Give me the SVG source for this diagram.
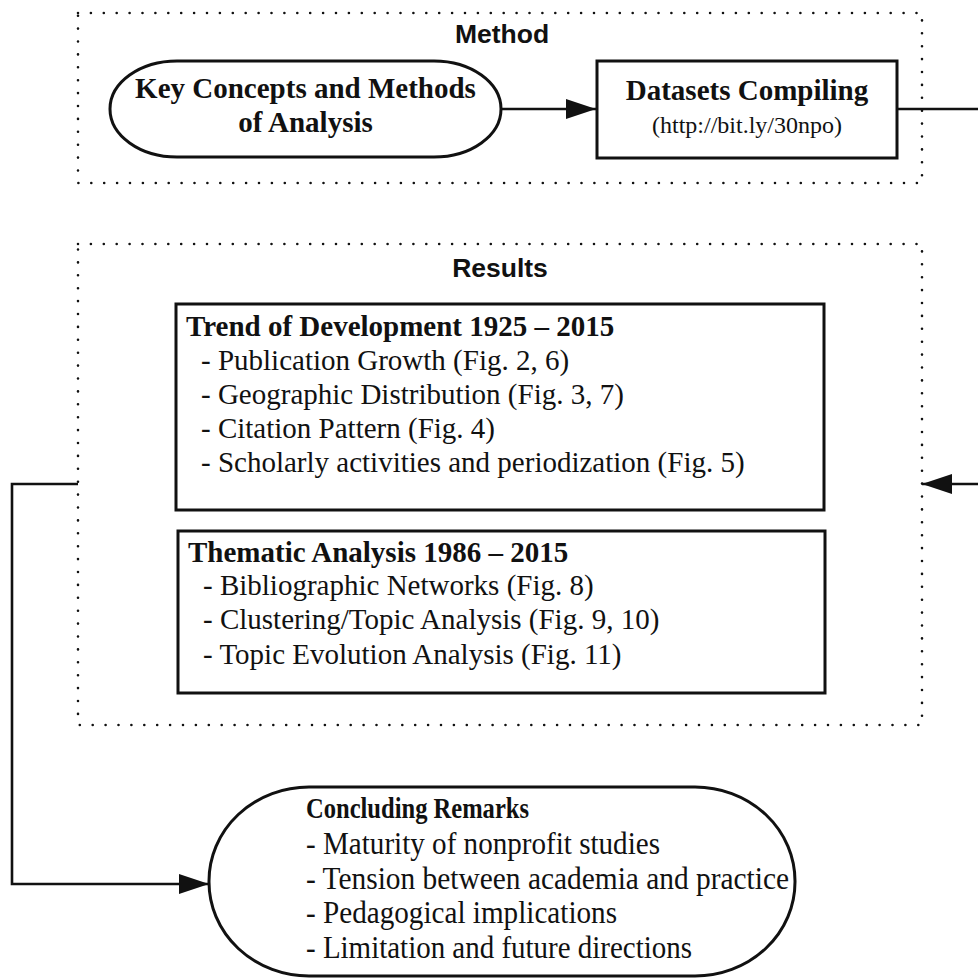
<svg xmlns="http://www.w3.org/2000/svg" width="978" height="979" viewBox="0 0 978 979">
<style>
.grp{fill:none;stroke:#111;stroke-width:2.6;stroke-linecap:round;stroke-dasharray:0 12.9}
.node{fill:#fff;stroke:#111;stroke-width:3}
.edge{fill:none;stroke:#111;stroke-width:2.6}
.hd{font-family:"Liberation Sans",Arial,sans-serif;font-weight:bold;font-size:26.5px;fill:#111;text-anchor:middle}
.tb{font-family:"Liberation Serif","Times New Roman",serif;font-weight:bold;fill:#111}
.tr{font-family:"Liberation Serif","Times New Roman",serif;fill:#111}
</style>
<defs>
<marker id="arr" viewBox="0 0 30 20" refX="30" refY="10" markerWidth="30" markerHeight="20" markerUnits="userSpaceOnUse" orient="auto">
<path d="M0,0 L30,10 L0,20 z" fill="#111"/>
</marker>
</defs>
<g id="method-group">
<rect class="grp" x="78" y="13" width="844" height="170"/>
<text class="hd" x="502" y="43">Method</text>
</g>
<g id="results-group">
<rect class="grp" x="78" y="244" width="844" height="481"/>
<text class="hd" x="500" y="277">Results</text>
</g>
<g id="connectors">
<line class="edge" x1="501" y1="109" x2="596" y2="109" marker-end="url(#arr)"/>
<polyline class="edge" points="897,109 978,109"/>
<line class="edge" x1="978" y1="484" x2="922" y2="484" marker-end="url(#arr)"/>
<polyline class="edge" points="78,484 12,484 12,884 209,884" marker-end="url(#arr)"/>
</g>
<g id="key-concepts">
<rect class="node" x="110" y="61" width="391" height="96" rx="67" ry="48"/>
<text class="tb" x="305.5" y="98" font-size="29" text-anchor="middle">Key Concepts and Methods</text>
<text class="tb" x="305.5" y="132" font-size="29" text-anchor="middle">of Analysis</text>
</g>
<g id="datasets">
<rect class="node" x="597" y="61" width="300" height="97"/>
<text class="tb" x="747" y="100" font-size="29" text-anchor="middle">Datasets Compiling</text>
<text class="tr" x="747" y="133" font-size="24" text-anchor="middle">(http://bit.ly/30npo)</text>
</g>
<g id="trend">
<rect class="node" x="176" y="304" width="648" height="206"/>
<text class="tb" x="186" y="336" font-size="29">Trend of Development 1925 – 2015</text>
<text class="tr" x="201" y="370" font-size="29">- Publication Growth (Fig. 2, 6)</text>
<text class="tr" x="201" y="404" font-size="29">- Geographic Distribution (Fig. 3, 7)</text>
<text class="tr" x="201" y="438" font-size="29">- Citation Pattern (Fig. 4)</text>
<text class="tr" x="201" y="472" font-size="29">- Scholarly activities and periodization (Fig. 5)</text>
</g>
<g id="thematic">
<rect class="node" x="178" y="531" width="647" height="162"/>
<text class="tb" x="188" y="562" font-size="29">Thematic Analysis 1986 – 2015</text>
<text class="tr" x="203" y="595" font-size="29">- Bibliographic Networks (Fig. 8)</text>
<text class="tr" x="203" y="629" font-size="29">- Clustering/Topic Analysis (Fig. 9, 10)</text>
<text class="tr" x="203" y="664" font-size="29">- Topic Evolution Analysis (Fig. 11)</text>
</g>
<g id="concluding">
<rect class="node" x="209" y="787" width="586" height="189" rx="100" ry="94"/>
<text class="tb" x="306" y="818" font-size="30" textLength="223" lengthAdjust="spacingAndGlyphs">Concluding Remarks</text>
<text class="tr" x="306" y="854" font-size="32" textLength="354" lengthAdjust="spacingAndGlyphs">- Maturity of nonprofit studies</text>
<text class="tr" x="306" y="889" font-size="32" textLength="483" lengthAdjust="spacingAndGlyphs">- Tension between academia and practice</text>
<text class="tr" x="306" y="923" font-size="32" textLength="311" lengthAdjust="spacingAndGlyphs">- Pedagogical implications</text>
<text class="tr" x="306" y="958" font-size="32" textLength="386" lengthAdjust="spacingAndGlyphs">- Limitation and future directions</text>
</g>
</svg>
